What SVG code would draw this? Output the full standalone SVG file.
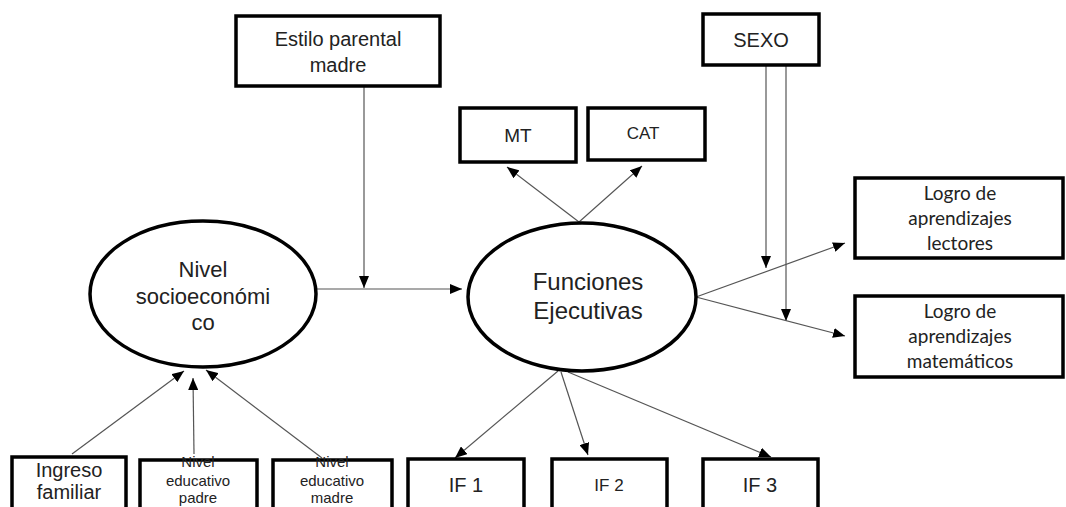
<svg xmlns="http://www.w3.org/2000/svg" width="1066" height="507" viewBox="0 0 1066 507">
<style>
.box{fill:#fff;stroke:#000;stroke-width:3.5}
.ell{fill:#fff;stroke:#000;stroke-width:3.5}
.t{font-family:"Liberation Sans",Arial,sans-serif;fill:#222;text-anchor:middle}
.c{font-family:Lato,"Open Sans",sans-serif;fill:#222;text-anchor:middle}
.ln{stroke:#555;stroke-width:1.2;fill:none}
.ar{marker-end:url(#ah)}
</style>
<defs>
<marker id="ah" markerUnits="userSpaceOnUse" markerWidth="12" markerHeight="10" viewBox="0 0 12 10" refX="12" refY="5" orient="auto">
<path d="M0,0 L12,5 L0,10 Z" fill="#000"/>
</marker>
</defs>
<g id="connectors">
<line class="ln ar" x1="364" y1="86" x2="364" y2="288"/>
<line class="ln ar" x1="317" y1="289" x2="462" y2="289"/>
<line class="ln ar" x1="579" y1="222" x2="507" y2="167"/>
<line class="ln ar" x1="579" y1="222" x2="642" y2="166"/>
<line class="ln ar" x1="766" y1="65" x2="766" y2="268"/>
<line class="ln ar" x1="786" y1="65" x2="786" y2="321"/>
<line class="ln ar" x1="696" y1="297" x2="845" y2="243"/>
<line class="ln ar" x1="696" y1="297" x2="845" y2="336"/>
<line class="ln ar" x1="72" y1="454" x2="184" y2="371"/>
<line class="ln ar" x1="194" y1="454" x2="193" y2="378"/>
<line class="ln ar" x1="322" y1="458" x2="206" y2="370"/>
<line class="ln ar" x1="558" y1="371" x2="455" y2="458"/>
<line class="ln ar" x1="561" y1="372" x2="588" y2="455"/>
<line class="ln ar" x1="568" y1="372" x2="771" y2="457"/>
</g>
<g id="estilo">
<rect class="box" x="236" y="16" width="204" height="70"/>
<text class="t" x="338" y="46" font-size="20">Estilo parental</text>
<text class="t" x="338" y="72" font-size="20">madre</text>
</g>
<g id="sexo">
<rect class="box" x="703" y="14" width="116" height="51"/>
<text class="t" x="761" y="47" font-size="20">SEXO</text>
</g>
<g id="mt">
<rect class="box" x="460" y="108" width="116" height="54"/>
<text class="t" x="518" y="142" font-size="19">MT</text>
</g>
<g id="cat">
<rect class="box" x="588" y="108" width="117" height="52"/>
<text class="t" x="643" y="139" font-size="17">CAT</text>
</g>
<g id="nse">
<ellipse class="ell" cx="203" cy="294" rx="113" ry="73"/>
<text class="t" x="203" y="277" font-size="22">Nivel</text>
<text class="t" x="203" y="304" font-size="22">socioeconómi</text>
<text class="t" x="203" y="330" font-size="22">co</text>
</g>
<g id="fe">
<ellipse class="ell" cx="582" cy="297" rx="114" ry="74"/>
<text class="t" x="588" y="290" font-size="24">Funciones</text>
<text class="t" x="588" y="319" font-size="24">Ejecutivas</text>
</g>
<g id="lectores">
<rect class="box" x="855" y="178" width="208" height="80"/>
<text class="c" x="960" y="200" font-size="19">Logro de</text>
<text class="c" x="960" y="225" font-size="19">aprendizajes</text>
<text class="c" x="960" y="250" font-size="19">lectores</text>
</g>
<g id="matematicos">
<rect class="box" x="855" y="296" width="208" height="81"/>
<text class="c" x="960" y="318" font-size="19">Logro de</text>
<text class="c" x="960" y="343" font-size="19">aprendizajes</text>
<text class="c" x="960" y="368" font-size="19">matemáticos</text>
</g>
<g id="ingreso">
<rect class="box" x="12" y="457" width="114" height="60"/>
<text class="t" x="69" y="477" font-size="20">Ingreso</text>
<text class="t" x="69" y="499" font-size="20">familiar</text>
</g>
<g id="padre">
<rect class="box" x="140" y="460" width="117" height="60"/>
<text class="t" x="198" y="467" font-size="15">Nivel</text>
<text class="t" x="198" y="486" font-size="15">educativo</text>
<text class="t" x="198" y="503" font-size="15">padre</text>
</g>
<g id="madre">
<rect class="box" x="273" y="460" width="119" height="60"/>
<text class="t" x="332" y="467" font-size="15">Nivel</text>
<text class="t" x="332" y="486" font-size="15">educativo</text>
<text class="t" x="332" y="503" font-size="15">madre</text>
</g>
<g id="if1">
<rect class="box" x="408" y="459" width="116" height="60"/>
<text class="t" x="466" y="492" font-size="20">IF 1</text>
</g>
<g id="if2">
<rect class="box" x="552" y="459" width="115" height="60"/>
<text class="t" x="609" y="491" font-size="17">IF 2</text>
</g>
<g id="if3">
<rect class="box" x="703" y="459" width="115" height="60"/>
<text class="t" x="760" y="492" font-size="20">IF 3</text>
</g>
</svg>
